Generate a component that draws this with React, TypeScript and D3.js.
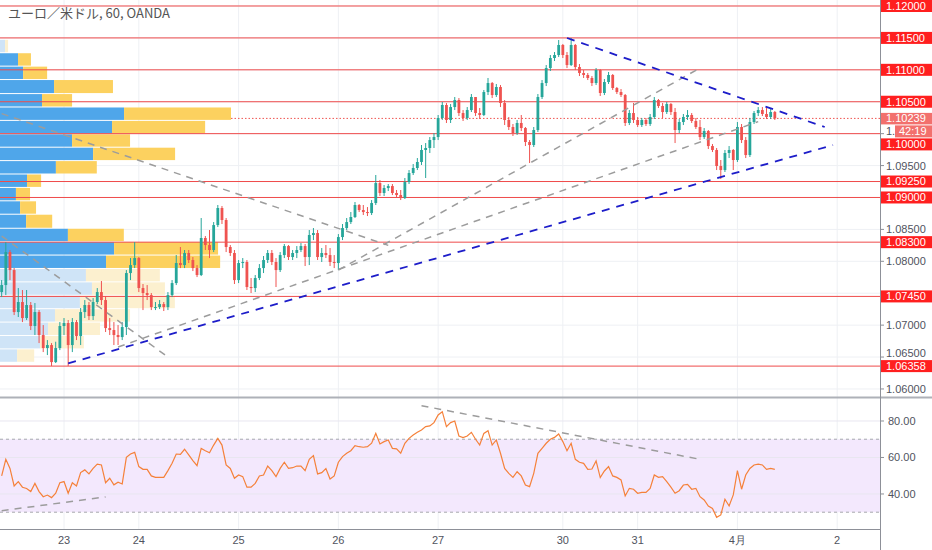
import React, { useRef, useEffect } from 'react';
import * as d3 from 'd3';

// hourly EUR/USD candles, open of the first bar, then close/high/low per bar
const firstOpen = 1.07518;
const closes = [
  1.07628, 1.08145, 1.07863, 1.07205, 1.07362, 1.07111, 1.07315, 1.06986, 1.07205, 1.06845,
  1.06641, 1.06688, 1.06421, 1.06641, 1.06986, 1.07033, 1.06688, 1.07048, 1.06829, 1.07205,
  1.07315, 1.07142, 1.07362, 1.07518, 1.07393, 1.06954, 1.06923, 1.06845, 1.06813, 1.06970,
  1.07816, 1.07941, 1.08051, 1.07581, 1.07503, 1.07471, 1.07283, 1.07283, 1.07330, 1.07283,
  1.07471, 1.07659, 1.07973, 1.07941, 1.08130, 1.08020, 1.07894, 1.07785, 1.08365, 1.08255,
  1.08177, 1.08568, 1.08835, 1.08647, 1.08224, 1.08130, 1.07706, 1.07973, 1.07989, 1.07597,
  1.07581, 1.07738, 1.07894, 1.08020, 1.08130, 1.07989, 1.07863, 1.08098, 1.08239, 1.08067,
  1.08130, 1.08177, 1.08239, 1.08067, 1.08412, 1.08443, 1.08067, 1.08130, 1.08098, 1.07989,
  1.07973, 1.08380, 1.08521, 1.08615, 1.08694, 1.08882, 1.08803, 1.08772, 1.08756, 1.08913,
  1.09226, 1.09070, 1.09148, 1.09179, 1.09070, 1.09038, 1.08991, 1.09242, 1.09383, 1.09462,
  1.09556, 1.09744, 1.09775, 1.09900, 1.09947, 1.10245, 1.10449, 1.10214, 1.10417, 1.10527,
  1.10323, 1.10245, 1.10370, 1.10574, 1.10323, 1.10292, 1.10652, 1.10793, 1.10605, 1.10731,
  1.10480, 1.10214, 1.10104, 1.10010, 1.10167, 1.10088, 1.09869, 1.09822, 1.10057, 1.10574,
  1.10793, 1.11028, 1.11185, 1.11232, 1.11389, 1.11232, 1.11075, 1.11389, 1.11044, 1.10950,
  1.10919, 1.10872, 1.10793, 1.10997, 1.10637, 1.10809, 1.10919, 1.10715, 1.10652, 1.10605,
  1.10167, 1.10323, 1.10214, 1.10135, 1.10214, 1.10151, 1.10261, 1.10527, 1.10433, 1.10339,
  1.10464, 1.10339, 1.10057, 1.10182, 1.10261, 1.10292, 1.10198, 1.10104, 1.09947, 1.10041,
  1.09806, 1.09744, 1.09493, 1.09430, 1.09697, 1.09744, 1.09587, 1.10104, 1.09900, 1.09665,
  1.10182, 1.10323, 1.10370, 1.10308, 1.10261, 1.10339, 1.10239,
];
const highs = [
  1.07706, 1.08302, 1.08177, 1.07894, 1.07581, 1.07550, 1.07550, 1.07362, 1.07346, 1.07236,
  1.07001, 1.06766, 1.06719, 1.06740, 1.07048, 1.07111, 1.07080, 1.07111, 1.07080, 1.07268,
  1.07393, 1.07362, 1.07424, 1.07581, 1.07691, 1.07456, 1.07111, 1.07048, 1.07001, 1.07048,
  1.07863, 1.08051, 1.08302, 1.08067, 1.07644, 1.07628, 1.07503, 1.07362, 1.07393, 1.07362,
  1.07518, 1.07706, 1.08098, 1.08224, 1.08177, 1.08177, 1.08067, 1.07941, 1.08678, 1.08396,
  1.08490, 1.08615, 1.08882, 1.08866, 1.08678, 1.08255, 1.08177, 1.08020, 1.08051, 1.08020,
  1.07738, 1.07785, 1.07957, 1.08083, 1.08177, 1.08177, 1.08051, 1.08145, 1.08271, 1.08255,
  1.08177, 1.08239, 1.08286, 1.08271, 1.08490, 1.08521, 1.08490, 1.08208, 1.08255, 1.08208,
  1.08098, 1.08427, 1.08584, 1.08678, 1.08772, 1.08929, 1.08897, 1.08882, 1.08850, 1.08960,
  1.09352, 1.09274, 1.09195, 1.09211, 1.09211, 1.09117, 1.09117, 1.09305, 1.09430, 1.09524,
  1.09618, 1.09822, 1.09853, 1.09947, 1.10010, 1.10292, 1.10496, 1.10480, 1.10464, 1.10574,
  1.10558, 1.10370, 1.10417, 1.10621, 1.10527, 1.10402, 1.10684, 1.10872, 1.10809, 1.10778,
  1.10762, 1.10527, 1.10261, 1.10151, 1.10214, 1.10292, 1.10104, 1.09900, 1.10104, 1.10621,
  1.10840, 1.11075, 1.11232, 1.11279, 1.11467, 1.11405, 1.11279, 1.11499, 1.11405, 1.11091,
  1.10997, 1.10950, 1.10903, 1.11028, 1.11013, 1.10856, 1.10966, 1.10934, 1.10731, 1.10699,
  1.10621, 1.10370, 1.10480, 1.10261, 1.10245, 1.10245, 1.10308, 1.10574, 1.10543, 1.10480,
  1.10496, 1.10480, 1.10402, 1.10229, 1.10308, 1.10370, 1.10323, 1.10245, 1.10214, 1.10088,
  1.10057, 1.09838, 1.09775, 1.09587, 1.09744, 1.09806, 1.09759, 1.10182, 1.10151, 1.09947,
  1.10245, 1.10355, 1.10417, 1.10417, 1.10402, 1.10402, 1.10355,
];
const lows = [
  1.07440, 1.07471, 1.07706, 1.07158, 1.07127, 1.07048, 1.07080, 1.06923, 1.06845, 1.06719,
  1.06578, 1.06531, 1.06359, 1.06406, 1.06609, 1.06845, 1.06359, 1.06578, 1.06766, 1.06688,
  1.07111, 1.07080, 1.07080, 1.07330, 1.07315, 1.06892, 1.06845, 1.06688, 1.06688, 1.06766,
  1.06845, 1.07706, 1.07894, 1.07518, 1.07236, 1.07393, 1.07236, 1.07236, 1.07252, 1.07221,
  1.07236, 1.07440, 1.07628, 1.07894, 1.07894, 1.07973, 1.07847, 1.07753, 1.07769, 1.08177,
  1.08051, 1.08145, 1.08537, 1.08584, 1.08145, 1.08083, 1.07644, 1.07659, 1.07894, 1.07550,
  1.07503, 1.07518, 1.07706, 1.07816, 1.07973, 1.07941, 1.07597, 1.07832, 1.08051, 1.08020,
  1.08020, 1.08051, 1.08145, 1.07926, 1.07941, 1.08333, 1.08020, 1.07989, 1.08051, 1.07926,
  1.07894, 1.07863, 1.08333, 1.08490, 1.08584, 1.08678, 1.08772, 1.08725, 1.08709, 1.08725,
  1.08882, 1.09023, 1.09023, 1.09101, 1.09038, 1.09007, 1.08960, 1.08976, 1.09211, 1.09352,
  1.09430, 1.09509, 1.09305, 1.09697, 1.09775, 1.09900, 1.10214, 1.10167, 1.10167, 1.10370,
  1.10276, 1.10198, 1.10214, 1.10339, 1.10276, 1.10229, 1.10276, 1.10605, 1.10558, 1.10574,
  1.10417, 1.10135, 1.10057, 1.09963, 1.09979, 1.10041, 1.09806, 1.09540, 1.09791, 1.10026,
  1.10543, 1.10746, 1.10981, 1.11138, 1.11201, 1.11185, 1.11028, 1.11060, 1.10997, 1.10903,
  1.10872, 1.10840, 1.10746, 1.10762, 1.10590, 1.10605, 1.10778, 1.10684, 1.10621, 1.10574,
  1.10120, 1.10135, 1.10167, 1.10104, 1.10104, 1.10120, 1.10120, 1.10229, 1.10402, 1.10245,
  1.10308, 1.10292, 1.09853, 1.10010, 1.10135, 1.10214, 1.10167, 1.10073, 1.09900, 1.09916,
  1.09759, 1.09712, 1.09430, 1.09289, 1.09399, 1.09618, 1.09430, 1.09556, 1.09853, 1.09618,
  1.09634, 1.10151, 1.10276, 1.10276, 1.10229, 1.10229, 1.10214,
];
const rsiValues = [
  49.9, 59.0, 54.0, 44.4, 46.8, 43.7, 43.0, 41.3, 45.8, 41.3,
  38.5, 39.4, 38.0, 40.4, 46.2, 46.8, 40.4, 46.2, 44.4, 51.7,
  53.2, 51.0, 54.0, 56.4, 55.9, 46.2, 48.6, 45.0, 46.4, 45.5,
  60.1, 61.9, 62.8, 55.0, 53.5, 53.5, 49.9, 49.1, 49.1, 49.1,
  52.8, 56.8, 61.9, 61.7, 64.5, 61.4, 58.3, 55.5, 65.0, 63.7,
  62.6, 66.8, 70.5, 66.8, 55.9, 54.0, 48.6, 50.4, 49.5, 43.7,
  43.7, 45.8, 49.9, 50.4, 55.3, 52.8, 49.5, 54.0, 57.4, 54.0,
  54.4, 55.3, 55.3, 52.8, 59.0, 61.0, 51.0, 51.7, 53.9, 48.2,
  49.9, 57.4, 60.5, 62.3, 63.7, 66.5, 65.9, 65.6, 65.9, 67.8,
  73.2, 67.4, 68.7, 69.6, 65.0, 64.7, 62.3, 67.8, 70.5, 72.3,
  73.8, 75.1, 76.9, 77.3, 79.1, 83.3, 85.1, 76.9, 79.1, 80.0,
  71.8, 70.9, 71.8, 73.8, 70.0, 66.8, 73.2, 74.7, 66.8, 69.6,
  62.3, 54.0, 51.3, 49.1, 52.2, 49.9, 44.9, 44.0, 51.3, 62.3,
  65.0, 67.8, 70.0, 71.0, 72.9, 68.7, 63.7, 67.8, 59.0, 57.4,
  56.8, 53.5, 53.7, 58.1, 49.0, 52.6, 55.0, 49.9, 49.1, 47.7,
  38.9, 43.1, 42.6, 40.4, 40.9, 40.9, 43.1, 50.4, 49.1, 49.5,
  46.8, 43.7, 40.4, 41.8, 44.9, 45.3, 42.6, 43.1, 38.5, 36.7,
  33.4, 32.1, 27.2, 28.5, 37.1, 33.4, 39.5, 52.8, 42.6, 50.4,
  54.0, 55.9, 56.4, 55.9, 53.5, 54.0, 53.5,
];

const dayLabels = ['23', '24', '25', '26', '27', '30', '31', '4月', '2'];
const dayIndex = [15, 33, 57, 81, 105, 135, 153, 177, 201];

const priceTicks = [1.06, 1.065, 1.07, 1.075, 1.08, 1.085, 1.09, 1.095, 1.1, 1.105, 1.11, 1.115, 1.12];
const rsiTicks = [40, 60, 80];
const levelLines = [1.12, 1.115, 1.11, 1.105, 1.1, 1.0925, 1.09, 1.083, 1.0745, 1.06358];
const lastPrice = 1.10239;
const countdown = '42:19';

// visible range volume profile rows (top price of each row)
const profileTops = [
  1.1147, 1.1126, 1.1105, 1.1084, 1.1062, 1.1041, 1.1020, 1.0999, 1.0978, 1.0957, 1.0936, 1.0915,
  1.0894, 1.0873, 1.0851, 1.0830, 1.0809, 1.0788, 1.0767, 1.0746, 1.0725, 1.0704, 1.0683, 1.0662,
];
const profileBottom = 1.0641;
const profileUp = [2.2, 7.8, 10, 23.4, 18.2, 53.7, 48.5, 31.2, 40.3, 24.2, 11.7, 6.9, 8.7, 11.3, 29.4, 49.4, 45.9, 37.2, 39.8, 34.6, 23.8, 20.8, 17.3, 7.4];
const profileDown = [1.3, 5.6, 10.4, 25.5, 13, 46.3, 40.3, 25.1, 35.5, 17.7, 6.1, 6.1, 6.9, 11.3, 24.2, 45, 49.4, 32, 31.6, 41.1, 32.5, 22.5, 19, 7.4];
const valueAreaHigh = 1.1126;
const valueAreaLow = 1.0788;

// drawn trend lines: [bar index, price] pairs
const grayTrends = [
  [[0, 1.10314], [93, 1.08249]],
  [[0, 1.08396], [40, 1.065]],
  [[28, 1.06657], [182, 1.10188]],
  [[81, 1.07863], [168, 1.11028]],
];
const blueTrends = [
  [[136, 1.11499], [198, 1.10104]],
  [[16, 1.064], [200, 1.09822]],
];
const rsiTrends = [
  [[0, 30.8], [25, 38.4]],
  [[101, 88.4], [168, 59.0]],
];

const W = 932;
const H = 550;
const PANE_R = 880;
const MAIN_B = 397;
const RSI_T = 398;
const RSI_B = 529;

const UP = '#26a69a';
const DOWN = '#ef5350';
const GRID = '#eef0f4';
const AXIS_TXT = '#50535e';
const LEVEL = '#ef4b4b';
const LABEL_RED = '#ff1f1f';
const LAST_RED = '#f2706d';
const FONT = '"Liberation Sans", Arial, sans-serif';

export default function App() {
  const ref = useRef<SVGSVGElement | null>(null);

  useEffect(() => {
    if (!ref.current) return;
    const svg = d3.select(ref.current);
    svg.selectAll('*').remove();

    const x = d3.scaleLinear().domain([-0.4, 211.3]).range([0, PANE_R]);
    const y = d3.scaleLinear().domain([1.05874, 1.12094]).range([MAIN_B, 0]);
    const yr = d3.scaleLinear().domain([20.8, 92.6]).range([RSI_B, RSI_T]);
    const vx = d3.scaleLinear().domain([0, 100]).range([0, 231]);

    svg.append('rect').attr('width', W).attr('height', H).attr('fill', '#fff');

    const defs = svg.append('defs');
    defs.append('clipPath').attr('id', 'clipMain')
      .append('rect').attr('x', 0).attr('y', 0).attr('width', PANE_R).attr('height', MAIN_B);
    defs.append('clipPath').attr('id', 'clipRsi')
      .append('rect').attr('x', 0).attr('y', RSI_T).attr('width', PANE_R).attr('height', RSI_B - RSI_T);

    // grid
    const grid = svg.append('g');
    grid.selectAll('.gv').data(dayIndex).join('line')
      .attr('x1', d => x(d)).attr('x2', d => x(d)).attr('y1', 0).attr('y2', RSI_B)
      .attr('stroke', GRID).attr('stroke-width', 1);
    grid.selectAll('.gh').data(priceTicks).join('line')
      .attr('x1', 0).attr('x2', PANE_R).attr('y1', d => y(d)).attr('y2', d => y(d))
      .attr('stroke', GRID).attr('stroke-width', 1);

    const main = svg.append('g').attr('clip-path', 'url(#clipMain)');

    // last price dotted line (under the profile)
    main.append('line')
      .attr('x1', 0).attr('x2', PANE_R).attr('y1', y(lastPrice)).attr('y2', y(lastPrice))
      .attr('stroke', DOWN).attr('stroke-width', 1).attr('stroke-dasharray', '1.5,2');

    // volume profile
    const prof = main.append('g');
    profileTops.forEach((top, k) => {
      const bottom = k + 1 < profileTops.length ? profileTops[k + 1] : profileBottom;
      const y0 = y(top);
      const h = y(bottom) - y0 - 1;
      const inVA = top <= valueAreaHigh && top > valueAreaLow;
      prof.append('rect').attr('x', 0).attr('y', y0).attr('width', vx(profileUp[k])).attr('height', h)
        .attr('fill', inVA ? '#4fa6ea' : '#cfe4f7');
      prof.append('rect').attr('x', vx(profileUp[k])).attr('y', y0).attr('width', vx(profileDown[k])).attr('height', h)
        .attr('fill', inVA ? '#fcd15f' : '#fcf0cf');
    });

    // horizontal levels
    main.selectAll('.lvl').data(levelLines).join('line')
      .attr('x1', 0).attr('x2', PANE_R).attr('y1', d => y(d)).attr('y2', d => y(d))
      .attr('stroke', LEVEL).attr('stroke-width', 1);

    // candles
    const opens = closes.map((_, i) => (i === 0 ? firstOpen : closes[i - 1]));
    const cg = main.append('g');
    closes.forEach((c, i) => {
      const o = opens[i];
      const col = c >= o ? UP : DOWN;
      const hi = Math.max(highs[i], o, c);
      const lo = Math.min(lows[i], o, c);
      cg.append('line')
        .attr('x1', x(i)).attr('x2', x(i)).attr('y1', y(hi)).attr('y2', y(lo))
        .attr('stroke', col).attr('stroke-width', 1);
      const top = y(Math.max(o, c));
      const bh = Math.max(1, y(Math.min(o, c)) - top);
      cg.append('rect').attr('x', x(i) - 1.4).attr('y', top).attr('width', 2.8).attr('height', bh).attr('fill', col);
    });

    // trend lines
    const tl = d3.line<number[]>().x(d => x(d[0])).y(d => y(d[1]));
    main.selectAll('.gt').data(grayTrends).join('path')
      .attr('d', d => tl(d)).attr('fill', 'none').attr('stroke', '#9c9c9c')
      .attr('stroke-width', 1.5).attr('stroke-dasharray', '7,6');
    main.selectAll('.bt').data(blueTrends).join('path')
      .attr('d', d => tl(d)).attr('fill', 'none').attr('stroke', '#1d1dc9')
      .attr('stroke-width', 1.8).attr('stroke-dasharray', '8,7');

    // title
    svg.append('text').attr('x', 8).attr('y', 18)
      .attr('font-family', '"Noto Sans CJK JP", "Noto Sans", sans-serif').attr('font-size', 13)
      .attr('fill', '#555').text('ユーロ／米ドル, 60, OANDA');

    // RSI pane
    const rsi = svg.append('g').attr('clip-path', 'url(#clipRsi)');
    rsi.append('rect').attr('x', 0).attr('width', PANE_R)
      .attr('y', yr(70)).attr('height', yr(30) - yr(70)).attr('fill', '#f3e8fd');
    rsi.selectAll('.rg').data(rsiTicks).join('line')
      .attr('x1', 0).attr('x2', PANE_R).attr('y1', d => yr(d)).attr('y2', d => yr(d))
      .attr('stroke', '#e8e6f0').attr('stroke-width', 1);
    rsi.selectAll('.band').data([70, 30]).join('line')
      .attr('x1', 0).attr('x2', PANE_R).attr('y1', d => yr(d)).attr('y2', d => yr(d))
      .attr('stroke', '#a6a8ad').attr('stroke-width', 1).attr('stroke-dasharray', '3,3');
    const rl = d3.line<number>().x((_, i) => x(i)).y(d => yr(d));
    rsi.append('path').datum(rsiValues).attr('d', rl).attr('fill', 'none')
      .attr('stroke', '#f5813a').attr('stroke-width', 1.2);
    const rtl = d3.line<number[]>().x(d => x(d[0])).y(d => yr(d[1]));
    rsi.selectAll('.rt').data(rsiTrends).join('path')
      .attr('d', d => rtl(d)).attr('fill', 'none').attr('stroke', '#9c9c9c')
      .attr('stroke-width', 1.5).attr('stroke-dasharray', '7,6');

    // pane borders
    svg.append('line').attr('x1', 0).attr('x2', W).attr('y1', MAIN_B + 0.5).attr('y2', MAIN_B + 0.5)
      .attr('stroke', '#aeb1b8').attr('stroke-width', 2);
    svg.append('line').attr('x1', 0).attr('x2', PANE_R).attr('y1', RSI_B + 0.5).attr('y2', RSI_B + 0.5)
      .attr('stroke', '#8d9098').attr('stroke-width', 1);
    svg.append('line').attr('x1', PANE_R + 0.5).attr('x2', PANE_R + 0.5).attr('y1', 0).attr('y2', H)
      .attr('stroke', '#8d9098').attr('stroke-width', 1);

    // price axis
    const ax = svg.append('g').attr('font-family', FONT).attr('font-size', 11);
    const fmt = d3.format('.5f');
    const yLast = y(lastPrice);
    const yCount = yLast + 13;
    // level label centres, pushed below the last price / countdown tag when they collide
    const labelY = levelLines.map(p => {
      const cy = y(p);
      return cy > yLast - 12 && cy < yLast + 26 ? yLast + 26 : cy;
    });

    priceTicks.forEach(p => {
      const ty = y(p);
      ax.append('line').attr('x1', PANE_R).attr('x2', PANE_R + 4).attr('y1', ty).attr('y2', ty)
        .attr('stroke', '#8d9098');
      // a tick text hidden under a level tag is not drawn; under the countdown tag only "1." shows
      if (labelY.some(ly => Math.abs(ly - ty) < 8) || Math.abs(yLast - ty) < 8) return;
      const txt = Math.abs(yCount - ty) < 8 ? fmt(p).slice(0, 2) : fmt(p);
      // a tick text that half touches a level tag is nudged clear of it
      let textY = ty;
      labelY.forEach(ly => {
        const d = ty - ly;
        if (Math.abs(d) < 13) textY = ly + Math.sign(d) * 13;
      });
      ax.append('text').attr('x', 886).attr('y', textY).attr('dy', '0.36em').attr('fill', AXIS_TXT).text(txt);
    });
    rsiTicks.forEach(v => {
      ax.append('line').attr('x1', PANE_R).attr('x2', PANE_R + 4).attr('y1', yr(v)).attr('y2', yr(v))
        .attr('stroke', '#8d9098');
      ax.append('text').attr('x', 888).attr('y', yr(v)).attr('dy', '0.36em').attr('fill', AXIS_TXT).text(d3.format('.2f')(v));
    });

    levelLines.forEach((p, k) => {
      const cy = labelY[k];
      ax.append('rect').attr('x', PANE_R + 1).attr('y', cy - 6).attr('width', W - PANE_R - 1).attr('height', 12)
        .attr('fill', LABEL_RED);
      ax.append('text').attr('x', 886).attr('y', cy).attr('dy', '0.36em').attr('fill', '#fff').text(fmt(p));
    });
    ax.append('rect').attr('x', PANE_R + 1).attr('y', yLast - 5.5).attr('width', W - PANE_R - 1).attr('height', 11.5)
      .attr('fill', LAST_RED);
    ax.append('text').attr('x', 886).attr('y', yLast).attr('dy', '0.36em').attr('fill', '#fff').text(fmt(lastPrice));
    ax.append('rect').attr('x', 895).attr('y', yCount - 6).attr('width', W - 895).attr('height', 12)
      .attr('fill', LAST_RED);
    ax.append('text').attr('x', 899).attr('y', yCount).attr('dy', '0.36em').attr('fill', '#fff').text(countdown);

    // time axis
    const tx = svg.append('g').attr('font-family', FONT).attr('font-size', 11).attr('fill', AXIS_TXT);
    dayLabels.forEach((lab, k) => {
      tx.append('text').attr('x', x(dayIndex[k])).attr('y', 544).attr('text-anchor', 'middle').text(lab);
    });
  }, []);

  return (
    <div style={{ position: 'absolute', left: 0, top: 0 }}>
      <svg ref={ref} width={W} height={H} style={{ display: 'block' }} />
    </div>
  );
}
